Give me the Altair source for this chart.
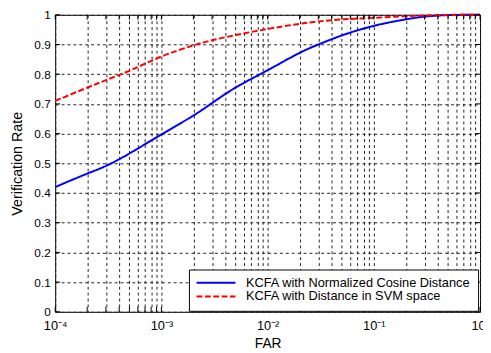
import altair as alt
import pandas as pd

# ---- data ----
far = [0.0001, 0.0002, 0.0003, 0.0005, 0.001, 0.002, 0.003, 0.005,
       0.01, 0.02, 0.03, 0.05, 0.1, 0.2, 0.3, 0.5, 1.0]
cosine_rate = [0.42, 0.466, 0.489, 0.532, 0.598, 0.659, 0.703, 0.758,
               0.812, 0.874, 0.90, 0.932, 0.965, 0.985, 0.995, 1.0, 1.0]
svm_rate = [0.71, 0.755, 0.78, 0.81, 0.862, 0.898, 0.915, 0.932,
            0.953, 0.97, 0.978, 0.985, 0.99, 0.995, 0.998, 1.0, 1.0]

series_names = ["KCFA with Normalized Cosine Distance", "KCFA with Distance in SVM space"]
series_colors = ["#0000FF", "#FF0000"]
series_dash = [[1, 0], [6, 2.5]]

x_decades = [0.0001, 0.001, 0.01, 0.1, 1.0]
x_decade_labels = ["10⁻⁴", "10⁻³", "10⁻²", "10⁻¹", "10⁰"]
x_minor_mult = [2, 3, 4, 5, 6, 7, 8, 9]
y_ticks = [0, 0.1, 0.2, 0.3, 0.4, 0.5, 0.6, 0.7, 0.8, 0.9, 1.0]

W, H = 432, 302
FONT = "Liberation Sans"

x_ticks = list(x_decades) + [m * d for d in x_decades[:-1] for m in x_minor_mult]

rows = []
for f, c, s in zip(far, cosine_rate, svm_rate):
    rows.append({"far": f, "rate": c, "series": series_names[0]})
    rows.append({"far": f, "rate": s, "series": series_names[1]})
df = pd.DataFrame(rows)

label_expr = "''"
for v, lab in reversed(list(zip(x_decades, x_decade_labels))):
    label_expr = f"datum.value == {v} ? '{lab}' : ({label_expr})"

xs = alt.Scale(type="log", domain=[0.0001, 1.0], nice=False)
ys = alt.Scale(domain=[0, 1], nice=False, zero=False)

grid_common = dict(grid=True, gridColor="#222222", gridDash=[3, 3], gridWidth=1,
                   ticks=False, domain=False, labelFont=FONT,
                   labelColor="black", titleFont=FONT, titleColor="black",
                   titleFontWeight="normal", labelFlush=False, labelOverlap=False,
                   labelBound=False)

xaxis = alt.Axis(values=x_ticks, labelExpr=label_expr, labelPadding=8, labelFontSize=13,
                 titleFontSize=14, titleY=36, titleBaseline="alphabetic",
                 **grid_common)
yaxis = alt.Axis(values=y_ticks, format=".1~f", labelPadding=5, labelFontSize=12,
                 titleFontSize=14.5, titleX=-31, titleBaseline="bottom",
                 **grid_common)

XT, YT = "FAR", "Verification Rate"

lines = alt.Chart(df).mark_line(strokeWidth=2, interpolate="basis").encode(
    x=alt.X("far:Q", scale=xs, axis=xaxis, title=XT),
    y=alt.Y("rate:Q", scale=ys, axis=yaxis, title=YT),
    color=alt.Color("series:N", scale=alt.Scale(domain=series_names, range=series_colors),
                    legend=alt.Legend(title=None)),
    strokeDash=alt.StrokeDash("series:N", scale=alt.Scale(domain=series_names, range=series_dash),
                              legend=alt.Legend(title=None)),
)

ydf = pd.DataFrame({"v": y_ticks})
xdf = pd.DataFrame({"v": x_ticks})
TL = 5
yl = alt.Chart(ydf).mark_rule(color="black", strokeWidth=1).encode(
    y=alt.Y("v:Q", scale=ys, axis=yaxis, title=YT), x=alt.value(0), x2=alt.value(TL))
yr = alt.Chart(ydf).mark_rule(color="black", strokeWidth=1).encode(
    y=alt.Y("v:Q", scale=ys, axis=yaxis, title=YT), x=alt.value(W - TL), x2=alt.value(W))
xb = alt.Chart(xdf).mark_rule(color="black", strokeWidth=1).encode(
    x=alt.X("v:Q", scale=xs, axis=xaxis, title=XT), y=alt.value(H - TL), y2=alt.value(H))
xt = alt.Chart(xdf).mark_rule(color="black", strokeWidth=1).encode(
    x=alt.X("v:Q", scale=xs, axis=xaxis, title=XT), y=alt.value(0), y2=alt.value(TL))

chart = alt.layer(lines, yl, yr, xb, xt).properties(
    width=W, height=H,
    autosize=alt.AutoSizeParams(type="none"),
    padding={"left": 48, "top": 4, "right": 3, "bottom": 40},
    background="white",
).configure_view(
    stroke="black", strokeWidth=1
).configure_legend(
    orient="none", legendX=136, legendY=259,
    padding=7, strokeColor="black", fillColor="white", cornerRadius=0,
    labelFont=FONT, labelFontSize=13, labelColor="black", labelLimit=500,
    symbolType="M-3.6,0H3.6", symbolSize=121, symbolStrokeWidth=2,
    symbolOffset=14, labelOffset=24, rowPadding=-1,
)

chart.save("out.html", embed_options={"renderer": "svg", "actions": False})
